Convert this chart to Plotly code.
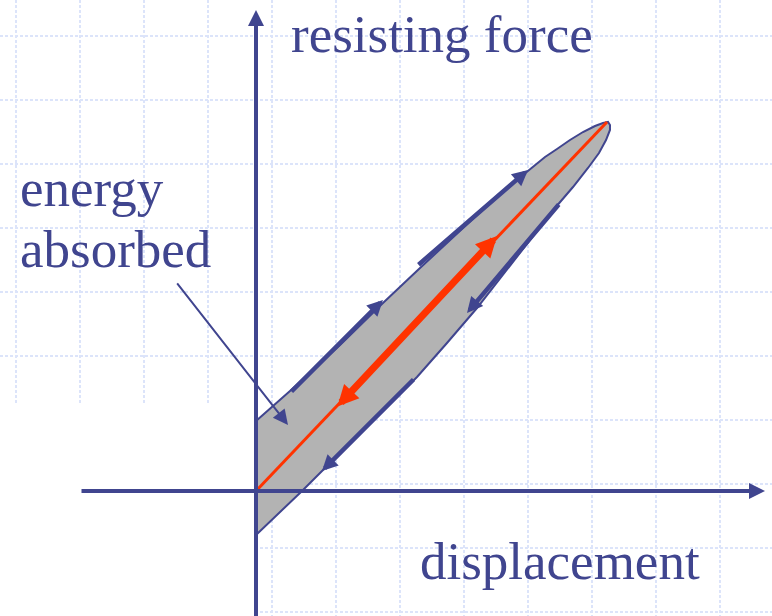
import plotly.graph_objects as go

# ---- data (displacement / force units; 1 unit = one grid square) ----
loop_x = [0, 0.531, 1.3125, 1.984, 2.5625, 3.344, 3.656, 4.172, 4.516, 4.703, 4.906, 5.109, 5.297,
          5.422, 5.5, 5.531,
          5.531, 5.469, 5.359, 5.1875, 4.953, 4.672, 4.328, 3.922, 3.453, 2.984, 2.516, 2.016,
          1.469, 0.719, 0, 0]
loop_y = [1.094, 1.5625, 2.281, 2.9375, 3.484, 4.203, 4.5, 4.9375, 5.219, 5.344, 5.484, 5.609, 5.703,
          5.75, 5.766, 5.719,
          5.641, 5.484, 5.281, 5.047, 4.75, 4.422, 3.984, 3.453, 2.859, 2.3125, 1.781, 1.281,
          0.75, 0, -0.6875, 1.094]

elastic_x = [0, 5.484]
elastic_y = [0, 5.766]

# red double arrow (start, end)
red_arrow = [(1.25, 1.297), (3.766, 3.984)]

# blue loading / unloading arrows: (tail_x, tail_y, head_x, head_y)
blue_arrows = [
    (0.531, 1.531, 1.984, 2.984),
    (2.516, 3.516, 4.25, 5.016),
    (4.75, 4.5, 3.297, 2.781),
    (2.484, 1.766, 1.031, 0.3125),
]

# axes (tail -> head)
x_axis = (-2.75, 0, 7.953, 0)
y_axis = (0, -1.99, 0, 7.516)

# pointer from label to the loop
energy_arrow = (-1.25, 3.266, 0.5, 1.031)

# area without grid (lower left)
mask_x = [-4.1, -0.03, -0.03, -4.1, -4.1]
mask_y = [1.375, 1.375, -2.1, -2.1, 1.375]

labels = {
    "resisting force": (0.52, 7.14),
    "energy": (-3.72, 4.73),
    "absorbed": (-3.72, 3.78),
    "displacement": (2.53, -1.1),
}

BLUE = "#40458F"
RED = "#FF3300"
GRAY = "#B3B3B3"
GRID = "#DCE4FA"
FONT = "Liberation Serif, Times New Roman, serif"

fig = go.Figure()

fig.add_trace(go.Scatter(x=mask_x, y=mask_y, mode="lines", fill="toself",
                         fillcolor="white", line=dict(width=0, color="white"),
                         hoverinfo="skip", showlegend=False))
fig.add_trace(go.Scatter(x=loop_x, y=loop_y, mode="lines", fill="toself",
                         fillcolor=GRAY, line=dict(color=BLUE, width=2),
                         hoverinfo="skip", showlegend=False))

# axes lines
for tx, ty, hx, hy in [x_axis, y_axis]:
    fig.add_annotation(x=hx, y=hy, ax=tx, ay=ty, xref="x", yref="y", axref="x", ayref="y",
                       text="", showarrow=True, arrowhead=2, arrowsize=0.8, arrowwidth=4,
                       arrowcolor=BLUE, standoff=0, startstandoff=0)

fig.add_trace(go.Scatter(x=elastic_x, y=elastic_y, mode="lines",
                         line=dict(color=RED, width=3), hoverinfo="skip", showlegend=False))

# red double arrow
(sx, sy), (ex, ey) = red_arrow
fig.add_annotation(x=ex, y=ey, ax=sx, ay=sy, xref="x", yref="y", axref="x", ayref="y",
                   text="", showarrow=True, arrowhead=2, startarrowhead=2, arrowside="end+start",
                   arrowsize=0.6, startarrowsize=0.6, arrowwidth=7, arrowcolor=RED,
                   standoff=0, startstandoff=0)

for tx, ty, hx, hy in blue_arrows:
    fig.add_annotation(x=hx, y=hy, ax=tx, ay=ty, xref="x", yref="y", axref="x", ayref="y",
                       text="", showarrow=True, arrowhead=2, arrowsize=0.7, arrowwidth=4.5,
                       arrowcolor=BLUE, standoff=0, startstandoff=0)

tx, ty, hx, hy = energy_arrow
fig.add_annotation(x=hx, y=hy, ax=tx, ay=ty, xref="x", yref="y", axref="x", ayref="y",
                   text="", showarrow=True, arrowhead=2, arrowsize=1.5, arrowwidth=2,
                   arrowcolor=BLUE, standoff=0, startstandoff=0)

for txt, (lx, ly) in labels.items():
    fig.add_annotation(x=lx, y=ly, xref="x", yref="y", text=txt, showarrow=False,
                       xanchor="left", yanchor="middle",
                       font=dict(family=FONT, size=53, color=BLUE))

fig.update_xaxes(range=[-4, 8.0625], showticklabels=False, zeroline=False, showline=False,
                 showgrid=True, gridcolor=GRID, gridwidth=1.5, griddash="3px,2px",
                 tick0=0.25, dtick=1, ticks="")
fig.update_yaxes(range=[-1.953125, 7.671875], showticklabels=False, zeroline=False, showline=False,
                 showgrid=True, gridcolor=GRID, gridwidth=1.5, griddash="3px,2px",
                 tick0=0.11, dtick=1, ticks="")

fig.update_layout(width=772, height=616, margin=dict(l=0, r=0, t=0, b=0),
                  plot_bgcolor="white", paper_bgcolor="white", showlegend=False)

fig.write_html("out.html", config={"displayModeBar": False},
               post_script="document.body.style.margin='0';document.body.style.overflow='hidden';")
